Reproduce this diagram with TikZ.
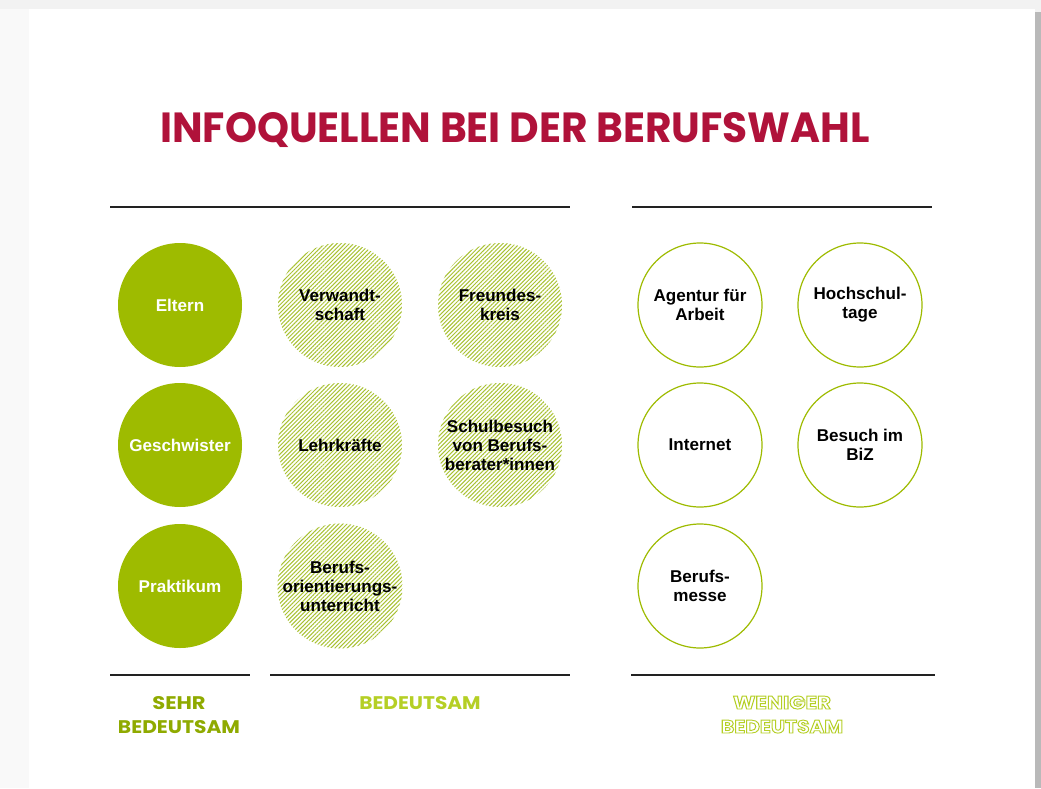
\documentclass[tikz,border=0pt]{standalone}
\usepackage{fontspec}
\usepackage{graphicx}
\setmainfont{Liberation Sans}
\newfontfamily\titlefont{Poppins Bold}
\usetikzlibrary{patterns.meta}
\definecolor{titlered}{HTML}{B0123A}
\definecolor{olivegreen}{HTML}{9EBB00}
\definecolor{darkolive}{HTML}{8FAA00}
\definecolor{lightgreen}{HTML}{B5CF25}
\definecolor{hatchgreen}{HTML}{A9C232}
\definecolor{rulegray}{HTML}{222222}
\newcommand{\outlinetext}[1]{\special{pdf:literal direct 1 Tr 0.5 w}#1\special{pdf:literal direct 0 Tr}}
\tikzset{
  circtext/.style={font=\fontsize{12.8}{14.2}\selectfont\bfseries, align=center},
  strong/.style={circle, minimum size=93pt, inner sep=0pt, fill=olivegreen, text=white, circtext},
  medium/.style={circle, minimum size=93pt, inner sep=0pt,
    pattern={Lines[angle=45,distance=2.2pt,line width=0.75pt]}, pattern color=hatchgreen,
    text=black, circtext},
  weak/.style={circle, minimum size=93pt, inner sep=0pt, draw=olivegreen, line width=0.9pt,
    fill=white, text=black, circtext},
  rule/.style={draw=rulegray, line width=1.5pt},
  catlabel/.style={inner sep=0pt, anchor=base}
}
\begin{document}
\begin{tikzpicture}[x=0.75pt,y=-0.75pt]
\useasboundingbox (0,0) rectangle (1041,788);
% page background and card
\fill[gray!10] (0,0) rectangle (1041,788);
\fill[gray!5] (0,9) rectangle (29,788);
\fill[gray!55] (1035,12) rectangle (1041,788);
\fill[white] (29,9) rectangle (1035,788);
% title
\node[catlabel, text=titlered] (title) at (515,143)
  {\resizebox{532pt}{22.5pt}{\titlefont INFOQUELLEN BEI DER BERUFSWAHL}};
% top rules
\coordinate (t1a) at (110,207); \coordinate (t1b) at (570,207);
\coordinate (t2a) at (632,207); \coordinate (t2b) at (932,207);
\draw[rule] (t1a) -- (t1b);
\draw[rule] (t2a) -- (t2b);
% circles: sehr bedeutsam
\node[strong] (eltern) at (180,305) {Eltern};
\node[strong] (geschwister) at (180,445) {Geschwister};
\node[strong] (praktikum) at (180,586) {Praktikum};
% bedeutsam
\node[medium] (verwandt) at (340,305) {Verwandt-\\schaft};
\node[medium] (freunde) at (500,305) {Freundes-\\kreis};
\node[medium] (lehr) at (340,445) {Lehrkräfte};
\node[medium] (schul) at (500,445) {Schulbesuch\\von Berufs-\\berater*innen};
\node[medium] (bo) at (340,586) {Berufs-\\orientierungs-\\unterricht};
% weniger bedeutsam
\node[weak] (agentur) at (700,305) {Agentur für\\Arbeit};
\node[weak] (hochschul) at (860,305) {Hochschul-\\tage};
\node[weak] (internet) at (700,445) {Internet};
\node[weak] (biz) at (860,445) {Besuch im\\BiZ};
\node[weak] (messe) at (700,586) {Berufs-\\messe};
% bottom rules
\coordinate (b1a) at (110,675); \coordinate (b1b) at (250,675);
\coordinate (b2a) at (270,675); \coordinate (b2b) at (570,675);
\coordinate (b3a) at (631,675); \coordinate (b3b) at (935,675);
\draw[rule] (b1a) -- (b1b);
\draw[rule] (b2a) -- (b2b);
\draw[rule] (b3a) -- (b3b);
% category labels
\node[catlabel, text=darkolive] (sehr1) at (179,709) {\resizebox{40pt}{9.75pt}{\titlefont SEHR}};
\node[catlabel, text=darkolive] (sehr2) at (179,733) {\resizebox{91.5pt}{9.75pt}{\titlefont BEDEUTSAM}};
\node[catlabel, text=lightgreen] (bed) at (420,709) {\resizebox{91pt}{9.75pt}{\titlefont BEDEUTSAM}};
\node[catlabel, text=lightgreen] (wen1) at (782,709) {\resizebox{73.5pt}{9.75pt}{\outlinetext{\titlefont WENIGER}}};
\node[catlabel, text=lightgreen] (wen2) at (782,733) {\resizebox{91.5pt}{9.75pt}{\outlinetext{\titlefont BEDEUTSAM}}};
\end{tikzpicture}
\end{document}
